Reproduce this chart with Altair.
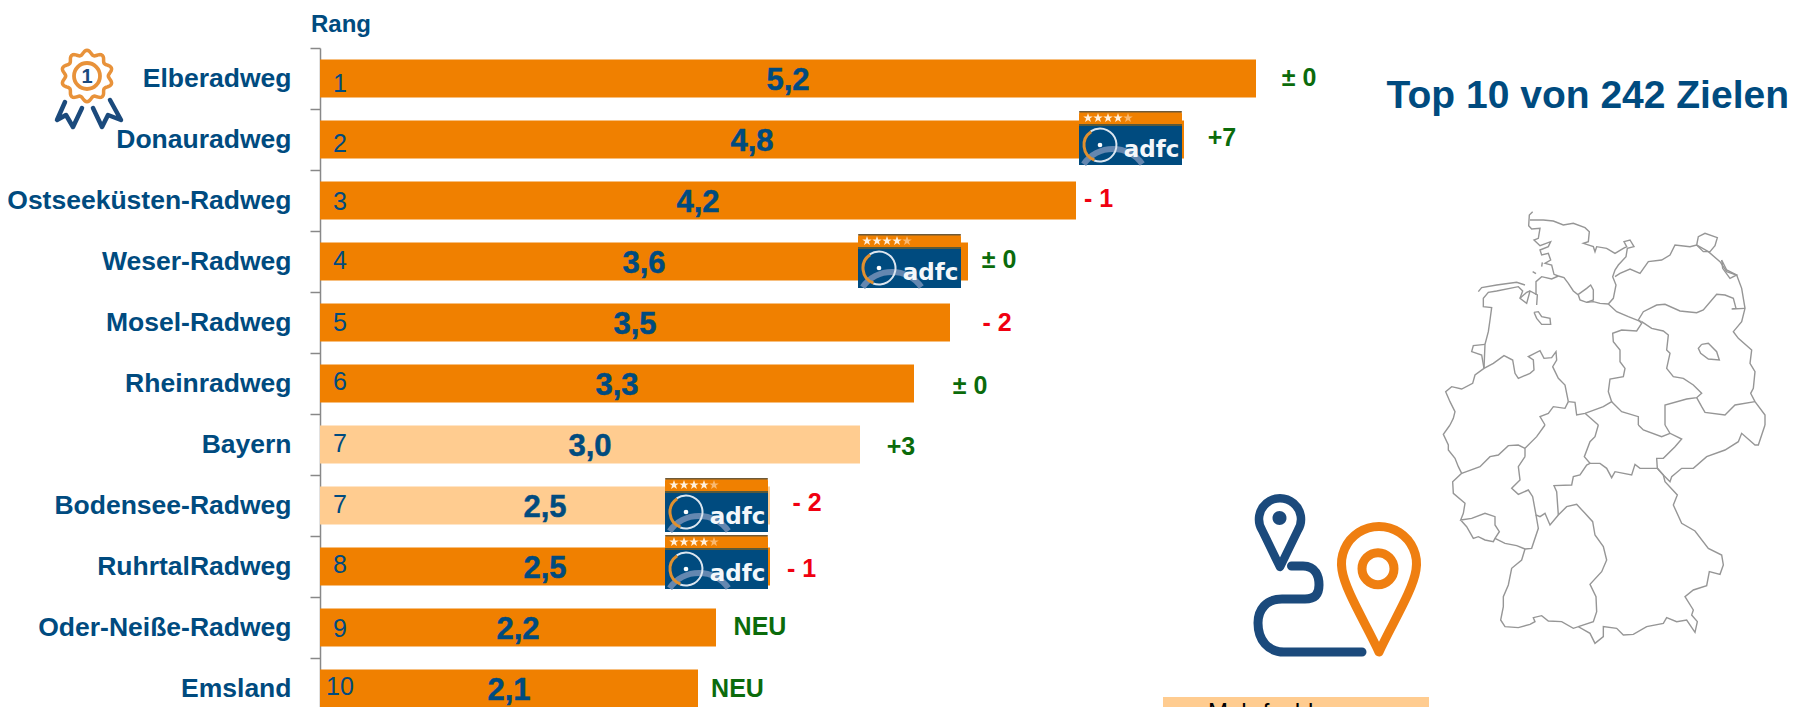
import altair as alt
import pandas as pd
import numpy as np

# ---------- chart values ----------
names = ["Elberadweg", "Donauradweg", "Ostseeküsten-Radweg", "Weser-Radweg", "Mosel-Radweg",
         "Rheinradweg", "Bayern", "Bodensee-Radweg", "RuhrtalRadweg\u00a0", "Oder-Neiße-Radweg", "Emsland"]
values = [5.2, 4.8, 4.2, 3.6, 3.5, 3.3, 3.0, 2.5, 2.5, 2.2, 2.1]
value_labels = ["5,2", "4,8", "4,2", "3,6", "3,5", "3,3", "3,0", "2,5", "2,5", "2,2", "2,1"]
ranks = ["1", "2", "3", "4", "5", "6", "7", "7", "8", "9", "10"]
kinds = ["Radweg"] * 6 + ["Land", "Land"] + ["Radweg"] * 3
changes = ["± 0", "+7", "- 1", "± 0", "- 2", "± 0", "+3", "- 2", "- 1", "NEU", "NEU"]
change_kinds = ["same", "up", "down", "same", "down", "same", "up", "down", "down", "up", "up"]

# annotation placement (page pixels / small nudges)
PAGE_X0, PAGE_Y0 = 320, 48
change_page_x = [1299, 1222, 1098.5, 999, 997, 970, 901, 807, 801.5, 760, 737.5]
rank_nudge = [5, 4, 1, -1, 0, -2, -1, -1, -2, 1, -2]
change_nudge = [-1, -2, -2, -2, 0, 2, 2, -3, 2, -1, 0]
badge_left = [1079, 858, 665, 665]
badge_top = [111, 234, 478, 535]
HALF_STEP = 30.5

BLUE = "#004B7F"
ORANGE = "#F08000"
LIGHT = "#FFCC90"
GREEN = "#0B6B0B"
RED = "#F00010"
ARIAL = "Liberation Sans"

df = pd.DataFrame({"name": names, "value": values, "vlabel": value_labels, "rank": ranks, "kind": kinds,
                   "change": changes, "ckind": change_kinds,
                   "cx": [(x - PAGE_X0) / 180 for x in change_page_x],
                   "rn": [n + HALF_STEP for n in rank_nudge], "cn": [n + HALF_STEP for n in change_nudge]})

x_scale = alt.Scale(domain=[0, 1470 / 180], range=[0, 1470])
y_scale = alt.Scale(domain=names, range=[0, 671], paddingInner=0, paddingOuter=0)
Y = alt.Y("name:N", scale=y_scale, sort=None, title=None,
          axis=alt.Axis(tickBand="extent", tickSize=10, tickColor="#888888", tickWidth=1.5, domainColor="#888888",
                        domainWidth=1.5, labelFont=ARIAL, labelFontWeight="bold", labelFontSize=26.5, labelColor=BLUE,
                        labelPadding=19, labelLimit=400, grid=False))

base = alt.Chart(df)
bars = base.mark_bar(size=38).encode(
    x=alt.X("value:Q", scale=x_scale, axis=None),
    y=Y,
    color=alt.Color("kind:N", scale=alt.Scale(domain=["Radweg", "Land"], range=[ORANGE, LIGHT]), legend=None),
)
vals = base.transform_calculate(mid="datum.value/2").mark_text(
    font=ARIAL, fontWeight="bold", fontSize=31, color=BLUE, stroke=BLUE, strokeWidth=0.5, align="center",
    baseline="middle", dy=2
).encode(x=alt.X("mid:Q", scale=x_scale, axis=None), y=Y, text="vlabel:N")
rank_t = base.mark_text(font=ARIAL, fontSize=25, color=BLUE, align="center", baseline="middle"
                        ).encode(x=alt.value(20), y=Y, yOffset=alt.YOffset("rn:Q", scale=None), text="rank:N")
chg = base.mark_text(font=ARIAL, fontWeight="bold", fontSize=25, align="center", baseline="middle").encode(
    x=alt.X("cx:Q", scale=x_scale, axis=None), y=Y, yOffset=alt.YOffset("cn:Q", scale=None), text="change:N",
    color=alt.Color("ckind:N", scale=alt.Scale(domain=["same", "up", "down"], range=[GREEN, GREEN, RED]), legend=None),
)


def px(v):
    return v - PAGE_X0


def py(v):
    return v - PAGE_Y0


one = pd.DataFrame({"a": [0]})


def path(d, stroke=None, width=0, fill=None):
    kw = dict(shape=d, size=4, opacity=1, strokeCap="round", strokeJoin="round")
    kw["strokeWidth"] = width
    if stroke:
        kw["stroke"] = stroke
    if fill:
        kw["fill"] = fill
        kw["filled"] = True
    else:
        kw["filled"] = False
    return alt.Chart(one).mark_point(**kw).encode(x=alt.value(-PAGE_X0), y=alt.value(-PAGE_Y0))


def label(text, x, y, size, font=ARIAL, color=BLUE, weight="bold", align="left"):
    return alt.Chart(one).mark_text(text=text, font=font, fontSize=size, fontWeight=weight, color=color, align=align,
                                    baseline="alphabetic").encode(x=alt.value(px(x)), y=alt.value(py(y)))


# ---------- badges ----------
def badge_df(dx=0, dy=0):
    return pd.DataFrame({"x": [l + dx - PAGE_X0 for l in badge_left], "y": [t + dy - PAGE_Y0 for t in badge_top]})


def XN(f="x"):
    return alt.X(f"{f}:Q", scale=None, axis=None)


def YN(f="y"):
    return alt.Y(f"{f}:Q", scale=None, axis=None)


def badge_rect(y0, y1, color, **kw):
    d = badge_df()
    d["x2"], d["y1"], d["y2"] = d.x + 103, d.y + y0, d.y + y1
    return alt.Chart(d).mark_rect(color=color, **kw).encode(x=XN(), x2="x2:Q", y=YN("y1"), y2="y2:Q")


def badge_arc(cx, cy, r0, r1, t0, t1, color):
    return alt.Chart(badge_df(cx, cy)).mark_arc(radius=r1, radius2=r0, theta=t0, theta2=t1, color=color).encode(
        x=XN(), y=YN())


STAR = ("M0,-1 L0.24,-0.32 L0.95,-0.31 L0.38,0.12 L0.59,0.81 L0,0.4 L-0.59,0.81 L-0.38,0.12 L-0.95,-0.31 "
        "L-0.24,-0.32 Z")


def badge_star(dx, color):
    return alt.Chart(badge_df(dx, 7)).mark_point(shape=STAR, size=100, filled=True, color=color, opacity=1,
                                                 strokeWidth=0).encode(x=XN(), y=YN())


badge_layers = [
    badge_rect(0, 14, ORANGE, cornerRadiusTopLeft=3, cornerRadiusTopRight=3),
    badge_rect(0, 1.5, "#6E5A38", cornerRadiusTopLeft=3, cornerRadiusTopRight=3),
    badge_rect(13, 54, BLUE),
    badge_rect(13, 15, "#5A5A3A"),
    badge_arc(34, 74, 33, 39, 5.33, 6.283, "#6487B0"),
    badge_arc(34, 74, 33, 39, 0, 0.95, "#6487B0"),
    badge_arc(21, 34, 15.5, 17.5, 5.68, 6.283, "#DCE6F0"),
    badge_arc(21, 34, 15.5, 17.5, 0, 3.5, "#DCE6F0"),
    badge_arc(21, 34, 14.5, 17.5, 3.5, 5.7, "#E0902F"),
    alt.Chart(badge_df(21, 34)).mark_point(shape="circle", size=22, filled=True, color="#FFFFFF", opacity=1).encode(
        x=XN(), y=YN()),
    alt.Chart(badge_df(72.5, 46)).mark_text(text="adfc", font="DejaVu Sans", fontWeight="bold", fontSize=23,
                                           color="#F4F7FA", align="center", baseline="alphabetic").encode(x=XN(), y=YN()),
]
for sx, c in zip([9, 19, 29, 39, 49], ["#FFF0DC"] * 4 + ["#F8B870"]):
    badge_layers.append(badge_star(sx, c))

# ---------- outline map (crop coordinates) ----------
MAP_N = [  # crop origin (1430, 205)
    [(308,20),(298,30),(296,62),(305,72),(330,70),(325,100),(312,105),(330,122),(362,110),(355,125),(330,135),(335,150),(355,145),(362,165),(345,175),(365,180),(372,208),(385,213),(402,218),(415,235),(430,258),(445,270),(450,285),(470,292),(490,290),(510,295),(535,297)],
    [(300,45),(340,45),(370,48),(400,60),(430,55),(465,68),(478,80),(475,110),(460,115),(490,125),(495,140),(500,125),(530,130),(555,145),(580,130),(590,125),(582,110),(600,105),(612,125),(592,130),(588,155),(565,180),(555,195),(548,215),(558,240),(550,280),(535,297)],
    [(445,268),(470,250),(482,240),(490,255),(490,285),(470,292)],
    [(145,260),(155,248),(200,240),(260,232),(285,240)],
    [(308,200),(318,206)],
    [(335,185),(337,172)],
    [(162,490),(165,418),(175,380),(180,345),(185,308),(160,305),(160,280),(175,262),(200,258),(265,245),(278,258),(270,280),(290,295),(300,258),(322,270),(320,300)],
    [(270,280),(290,262),(300,258)],
    [(318,270),(318,230),(335,215),(365,222),(385,213)],
    [(165,418),(130,422),(125,440),(155,450),(162,490)],
    [(312,322),(325,320),(335,335),(360,340),(362,358),(335,358),(320,340),(312,322)],
    [(162,490),(190,475),(222,452),(248,465),(255,505),(265,520),(300,505),(312,495),(310,465),(295,455),(330,437),(342,460),(365,458),(378,440),(380,465),(368,485),(385,520),(405,540),(415,590)],
    [(162,490),(135,510),(128,535),(95,552),(65,545),(47,560),(60,590),(75,620),(70,640),(60,660)],
    [(415,590),(405,610),(370,605),(355,625),(330,635),(345,660)],
    [(415,590),(435,592),(440,630),(465,625),(520,605),(545,590),(535,560),(540,522),(580,515),(585,490),(570,470),(570,435),(550,410),(548,385),(575,375),(620,378),(635,355),(625,345)],
    [(465,625),(505,660)],
    [(535,297),(560,320),(595,335),(625,347),(635,350)],
    [(625,345),(640,320),(680,300),(705,298),(750,318),(800,323),(820,315),(860,268),(885,270),(910,280),(918,310),(905,312),(945,310)],
    [(555,215),(570,205),(600,192),(630,205),(655,170),(695,165),(720,150),(735,120),(780,125),(800,120),(835,140),(870,170),(890,200),(920,210),(935,250),(945,310),(935,350),(910,380),(925,400),(965,435),(960,475),(975,500),(970,550),(962,565),(975,590),(1005,630),(1005,660)],
    [(800,120),(805,95),(825,85),(862,98),(855,122),(840,140),(820,140),(800,120)],
    [(875,165),(890,195),(920,210),(900,220),(878,190),(875,165)],
    [(635,350),(665,370),(700,378),(715,390),(710,435),(720,445),(710,490),(730,515),(760,520),(790,540),(815,565),(800,578),(770,582),(705,600),(705,660)],
    [(800,578),(815,605),(825,622),(885,630),(915,600),(975,590)],
    [(545,590),(575,620),(625,635),(625,660)],
    [(815,418),(835,415),(860,440),(868,465),(835,462),(812,445),(805,430),(815,418)],
]
MAP_S = [  # crop origin (1430, 425)
    [(60,0),(40,28),(55,60),(55,75),(75,100),(85,125),(95,145),(68,170),(70,205),(105,235),(100,265),(92,285),(125,280),(165,265),(195,275),(195,300),(208,320),(195,340),(190,350),(165,345),(145,335),(130,340),(110,305),(92,285)],
    [(195,340),(225,355),(260,362),(285,372)],
    [(285,372),(275,405),(245,430),(235,480),(220,515),(220,545),(212,585),(225,605),(265,608),(300,598),(315,590),(310,578),(335,572),(355,588),(395,590),(430,610),(445,605),(480,625),(495,655),(520,635),(520,605),(560,610),(580,630),(610,628),(650,605),(700,595),(710,578),(740,590),(770,585),(795,622),(802,590),(785,570),(790,555),(765,515),(790,495),(830,482),(838,440),(870,448),(880,420),(875,390),(835,370),(795,318),(755,295),(730,240),(742,210),(705,170),(700,150),(682,130)],
    [(445,605),(490,590),(500,560),(498,515),(480,478),(515,440),(530,405),(520,365),(495,330),(488,290),(465,265),(440,238),(410,245),(385,270),(360,300),(345,265),(330,275),(318,270),(308,215),(295,195),(265,208),(245,190),(270,165),(265,125),(285,95)],
    [(285,372),(305,370),(325,310),(318,270)],
    [(345,0),(320,35),(285,70),(285,95)],
    [(285,70),(265,60),(235,62),(205,90),(180,95),(150,125),(95,145)],
    [(385,270),(380,200),(372,182),(425,180),(430,155),(450,150),(470,120),(480,115),(463,95),(480,50),(495,35),(505,0)],
    [(480,115),(510,115),(530,130),(545,158),(555,140),(605,150),(615,118),(630,130),(682,130)],
    [(682,130),(680,100),(700,100),(735,65),(755,42),(720,25),(705,0)],
    [(625,0),(640,15),(695,35),(720,25)],
    [(682,130),(700,150),(720,170),(725,155),(755,130),(790,130),(830,95),(885,75),(925,50),(935,25),(975,60),(985,60),(1005,0)],
]
rows = []
for origin_y, group in ((205, MAP_N), (425, MAP_S)):
    for pts in group:
        gid = f"{origin_y}-{len(rows)}"
        for i, (a, b) in enumerate(pts):
            rows.append({"g": gid, "i": i, "x": 1430 + a / 3 - PAGE_X0, "y": origin_y + b / 3 - PAGE_Y0})
map_lines = alt.Chart(pd.DataFrame(rows)).mark_line(color="#969696", strokeWidth=1.4).encode(
    x=XN(), y=YN(), detail="g:N", order="i:Q")

# ---------- icons ----------
NAVY = "#1B4A7C"
PIN = "#EF7F11"
MEDAL = "#E8923A"
blue_pin = "M1280,567 L1262,530 A21,21 0 1,1 1298,530 Z"
blue_dot = "M1272.5,518 a7,7 0 1,0 14,0 a7,7 0 1,0 -14,0 Z"
route = ("M1291.5,566 L1303,566 C1316,566 1319,577 1319,585 C1319,593 1316,599 1305,599 L1282,599 "
         "C1266,599 1258,610 1258,623 C1258,640 1268,652 1284,652 L1362,652")
orange_pin = ("M1379,652 C1365,622 1345,590 1342,570 A37.5,37.5 0 1,1 1416,570 C1413,590 1393,622 1379,652 Z")
orange_ring = "M1362,568.7 a16,16 0 1,0 32,0 a16,16 0 1,0 -32,0 Z"

# medal
cx0, cy0 = 87, 76
t = np.linspace(0, 2 * np.pi, 181)
r = 23.5 + 2.2 * np.cos(10 * t)
medal_outer = "M" + " L".join(f"{cx0 + a * np.sin(b):.1f},{cy0 - a * np.cos(b):.1f}" for a, b in zip(r, t)) + " Z"
medal_inner = f"M{cx0 - 13},{cy0} a13,13 0 1,0 26,0 a13,13 0 1,0 -26,0 Z"
rib_l = "M65,102 L57,120 L66,115 L73,127 L82,108"
rib_r = "M93,108 L102,127 L108,115 L121,120 L110,100"

legend_df = pd.DataFrame({"x": [1163 - PAGE_X0], "x2": [1429 - PAGE_X0], "y": [697 - PAGE_Y0], "y2": [730 - PAGE_Y0]})
legend_box = alt.Chart(legend_df).mark_rect(color=LIGHT).encode(x=XN(), x2="x2:Q", y=YN(), y2="y2:Q")

layers = [bars, vals, rank_t, chg] + badge_layers + [
    map_lines,
    label("Rang", 311, 32, 24),
    label("Top 10 von 242 Zielen", 1789, 108, 39, align="right"),
    path(rib_l, NAVY, 4.5), path(rib_r, NAVY, 4.5),
    path(medal_outer, MEDAL, 3.5), path(medal_inner, MEDAL, 3.8),
    label("1", 87, 83, 20, color=NAVY, align="center"),
    path(blue_pin, NAVY, 8.5), path(blue_dot, fill=NAVY), path(route, NAVY, 9),
    path(orange_pin, PIN, 9), path(orange_ring, PIN, 9),
    legend_box,
    label("Mehrfachbenennung", 1208, 720, 24, color="#000000", weight="normal"),
]

chart = alt.layer(*layers).properties(
    width=1470, height=659, padding={"left": 312, "top": 40, "right": 0, "bottom": 0},
    autosize=alt.AutoSizeParams(type="none"), background="#FFFFFF",
).resolve_scale(color="independent").configure_view(stroke=None)

chart.save("out.html", embed_options={"renderer": "svg", "actions": False})
